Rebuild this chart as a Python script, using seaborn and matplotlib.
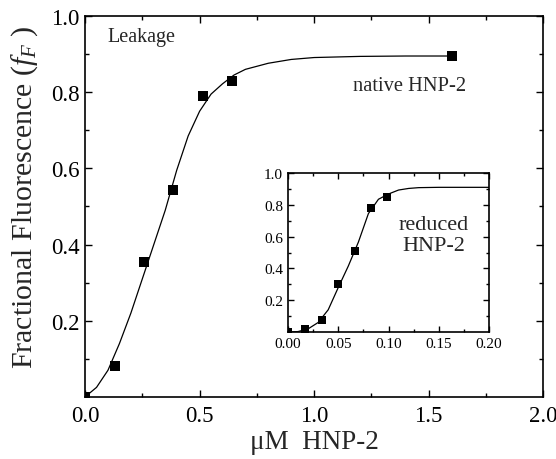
import matplotlib
matplotlib.use("Agg")
import matplotlib.pyplot as plt
import seaborn as sns
import pandas as pd
from matplotlib.ticker import MultipleLocator, FixedLocator

# ---- data ----
native_x = [0.0, 0.13, 0.258, 0.385, 0.515, 0.64, 1.60]
native_y = [0.0, 0.082, 0.355, 0.542, 0.79, 0.83, 0.895]

native_fit_x = [0.0, 0.05, 0.10, 0.15, 0.20, 0.25, 0.30, 0.35, 0.40, 0.45,
                0.50, 0.55, 0.60, 0.65, 0.70, 0.80, 0.90, 1.00, 1.20, 1.40, 1.60]
native_fit_y = [0.0, 0.025, 0.07, 0.14, 0.22, 0.31, 0.40, 0.49, 0.595, 0.685,
                0.75, 0.795, 0.822, 0.845, 0.860, 0.876, 0.886, 0.891, 0.894, 0.895, 0.895]

reduced_x = [0.0, 0.017, 0.034, 0.050, 0.067, 0.083, 0.0985]
reduced_y = [0.0, 0.02, 0.075, 0.30, 0.51, 0.78, 0.85]

reduced_fit_x = [0.0, 0.01, 0.02, 0.03, 0.04, 0.05, 0.06, 0.07, 0.08, 0.09,
                 0.10, 0.11, 0.12, 0.13, 0.15, 0.20]
reduced_fit_y = [0.0, 0.003, 0.02, 0.06, 0.14, 0.28, 0.415, 0.565, 0.745, 0.835,
                 0.868, 0.893, 0.903, 0.908, 0.91, 0.91]

main_xticks = [0.0, 0.5, 1.0, 1.5, 2.0]
main_xticklabels = ["0.0", "0.5", "1.0", "1.5", "2.0"]
main_yticks = [0.2, 0.4, 0.6, 0.8, 1.0]
main_yticklabels = ["0.2", "0.4", "0.6", "0.8", "1.0"]
inset_xticks = [0.0, 0.05, 0.10, 0.15, 0.20]
inset_xticklabels = ["0.00", "0.05", "0.10", "0.15", "0.20"]
inset_yticks = [0.2, 0.4, 0.6, 0.8, 1.0]
inset_yticklabels = ["0.2", "0.4", "0.6", "0.8", "1.0"]

sns.set_theme(style="ticks")
plt.rcParams["font.family"] = ["Liberation Serif", "DejaVu Serif"]
plt.rcParams["mathtext.fontset"] = "custom"
plt.rcParams["mathtext.rm"] = "Liberation Serif"
plt.rcParams["mathtext.it"] = "Liberation Serif:italic"

fig = plt.figure(figsize=(5.56, 4.60), dpi=100)
fig.patch.set_facecolor("white")

def style_axes(ax, tick_size, major_len, minor_len):
    ax.set_facecolor("white")
    for s in ax.spines.values():
        s.set_visible(True)
        s.set_color("black")
        s.set_linewidth(1.2)
    ax.tick_params(which="both", direction="in", top=True, right=True,
                   colors="black", labelsize=tick_size, width=1.0)
    ax.tick_params(which="major", length=major_len)
    ax.tick_params(which="minor", length=minor_len)
    ax.grid(False)

# ---- main axes ----
ax = fig.add_axes([0.153, 0.135, 0.824, 0.828])
df_fit = pd.DataFrame({"x": native_fit_x, "y": native_fit_y})
df_pts = pd.DataFrame({"x": native_x, "y": native_y})
sns.lineplot(data=df_fit, x="x", y="y", ax=ax, color="black", linewidth=0.9,
             sort=False, estimator=None)
sns.scatterplot(data=df_pts, x="x", y="y", ax=ax, marker="s", s=42,
                color="black", edgecolor="black", linewidth=0, zorder=5)
ax.set_xlim(0, 2.0)
ax.set_ylim(0, 1.0)
ax.set_xticks(main_xticks)
ax.set_xticklabels(main_xticklabels)
ax.set_yticks(main_yticks)
ax.set_yticklabels(main_yticklabels)
ax.xaxis.set_minor_locator(MultipleLocator(0.25))
ax.yaxis.set_minor_locator(FixedLocator([0.1, 0.3, 0.5, 0.7, 0.9]))
style_axes(ax, 16.5, 5, 3)
ax.tick_params(axis="x", which="major", pad=6)
ax.tick_params(axis="y", which="major", pad=4)
ax.set_xlabel("\u03bcM  HNP-2", fontsize=19.5)
ax.set_ylabel("Fractional Fluorescence ($f_F$ )", fontsize=21.5)
ax.xaxis.set_label_coords(0.5, -0.085)
ax.yaxis.set_label_coords(-0.099, 0.528)
ax.text(0.096, 0.947, "Leakage", fontsize=14.5, ha="left", va="center")
ax.text(1.17, 0.818, "native HNP-2", fontsize=14.8, ha="left", va="center")

# ---- inset ----
ins = fig.add_axes([0.518, 0.276, 0.3615, 0.3457])
df_rfit = pd.DataFrame({"x": reduced_fit_x, "y": reduced_fit_y})
df_rpts = pd.DataFrame({"x": reduced_x, "y": reduced_y})
sns.lineplot(data=df_rfit, x="x", y="y", ax=ins, color="black", linewidth=0.9,
             sort=False, estimator=None)
sns.scatterplot(data=df_rpts, x="x", y="y", ax=ins, marker="s", s=38,
                color="black", edgecolor="black", linewidth=0, zorder=5)
ins.set_xlim(0, 0.20)
ins.set_ylim(0, 1.0)
ins.set_xticks(inset_xticks)
ins.set_xticklabels(inset_xticklabels)
ins.set_yticks(inset_yticks)
ins.set_yticklabels(inset_yticklabels)
ins.xaxis.set_minor_locator(MultipleLocator(0.025))
ins.yaxis.set_minor_locator(FixedLocator([0.1, 0.3, 0.5, 0.7, 0.9]))
style_axes(ins, 11, 4, 2)
ins.set_xlabel("")
ins.set_ylabel("")
ins.text(0.145, 0.61, "reduced\nHNP-2", fontsize=16, ha="center", va="center",
         linespacing=1.1)

fig.savefig("out.png", dpi=100, facecolor="white")
